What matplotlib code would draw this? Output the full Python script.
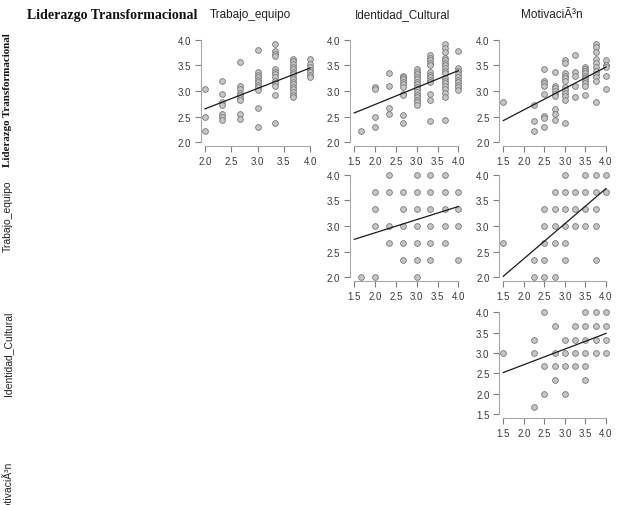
import matplotlib
matplotlib.use("Agg")
import matplotlib.pyplot as plt
import numpy as np

W, H = 617, 506

variables = ["Liderazgo Transformacional", "Trabajo_equipo", "Identidad_Cultural", "MotivaciÃ³n"]

# Liderazgo (y) vs Trabajo_equipo (x), grouped by x value
lid_trab_x = [2.0, 2.33, 2.67, 3.0, 3.33, 3.67, 4.0]
lid_trab_y = [
    [3.03, 2.5, 2.22],
    [3.19, 2.95, 2.78, 2.73, 2.55, 2.49, 2.43],
    [3.57, 3.1, 3.03, 2.97, 2.92, 2.87, 2.82, 2.55, 2.45],
    [3.8, 3.37, 3.32, 3.27, 3.22, 3.17, 3.12, 3.07, 3.02, 2.67, 2.3],
    [3.93, 3.78, 3.73, 3.68, 3.43, 3.38, 3.33, 3.28, 3.2, 3.15, 3.1, 2.93, 2.38],
    [3.63, 3.58, 3.53, 3.48, 3.43, 3.38, 3.33, 3.28, 3.23, 3.18, 3.13, 3.08, 3.03, 2.98, 2.93, 2.88],
    [3.62, 3.53, 3.47, 3.42, 3.37, 3.32, 3.28],
]

# Liderazgo (y) vs Identidad_Cultural (x)
lid_iden_x = [1.67, 2.0, 2.33, 2.67, 3.0, 3.33, 3.67, 4.0]
lid_iden_y = [
    [2.22],
    [3.08, 3.03, 2.5, 2.3],
    [3.35, 3.1, 2.67, 2.55],
    [3.3, 3.27, 3.23, 3.18, 3.13, 3.08, 2.95, 2.92, 2.53, 2.38],
    [3.43, 3.38, 3.33, 3.28, 3.23, 3.18, 3.13, 3.08, 3.03, 2.98, 2.93, 2.88, 2.83, 2.78, 2.73],
    [3.7, 3.65, 3.6, 3.55, 3.5, 3.37, 3.32, 3.27, 3.22, 3.17, 2.95, 2.83, 2.42],
    [3.93, 3.85, 3.77, 3.65, 3.6, 3.55, 3.5, 3.45, 3.4, 3.35, 3.25, 3.2, 3.15, 3.1, 3.03, 2.97, 2.88, 2.43],
    [3.78, 3.45, 3.4, 3.33, 3.27, 3.22, 3.17, 3.12, 3.07, 3.02],
]

# Liderazgo (y) vs Motivacion (x)
lid_moti_x = [1.5, 2.25, 2.5, 2.75, 3.0, 3.25, 3.5, 3.75, 4.0]
lid_moti_y = [
    [2.79],
    [2.73, 2.42, 2.21],
    [3.43, 3.2, 3.15, 3.1, 2.95, 2.51, 2.47, 2.3],
    [3.38, 3.1, 3.05, 3.0, 2.95, 2.9, 2.65, 2.55, 2.43],
    [3.6, 3.55, 3.35, 3.3, 3.25, 3.2, 3.07, 3.02, 2.97, 2.9, 2.82, 2.37],
    [3.71, 3.37, 3.3, 3.1, 2.88],
    [3.47, 3.43, 3.4, 3.35, 3.3, 3.25, 3.2, 3.15, 3.1, 2.93],
    [3.93, 3.87, 3.77, 3.63, 3.55, 3.48, 3.4, 3.33, 3.27, 3.2, 2.78],
    [3.61, 3.51, 3.47, 3.3, 3.03],
]

# Trabajo_equipo (y) vs Identidad_Cultural (x), grouped by y value
trab_iden_y = [4.0, 3.67, 3.33, 3.0, 2.67, 2.33, 2.0]
trab_iden_x = [
    [2.33, 3.0, 3.33, 3.67],
    [2.0, 2.33, 2.67, 3.0, 3.33, 3.67, 4.0],
    [2.0, 2.67, 3.0, 3.33, 3.67, 4.0],
    [2.0, 2.33, 2.67, 3.0, 3.33, 3.67, 4.0],
    [2.33, 2.67, 3.0, 3.33, 3.67],
    [2.67, 3.0, 3.33, 4.0],
    [1.67, 2.0, 3.0],
]

# Trabajo_equipo (y) vs Motivacion (x)
trab_moti_y = [4.0, 3.67, 3.33, 3.0, 2.67, 2.33, 2.0]
trab_moti_x = [
    [3.0, 3.5, 3.75, 4.0],
    [2.75, 3.0, 3.25, 3.5, 3.75, 4.0],
    [2.5, 2.75, 3.0, 3.25, 3.5, 3.75],
    [2.5, 2.75, 3.0, 3.25, 3.5, 3.75],
    [1.5, 2.5, 2.75, 3.0],
    [2.25, 2.5, 3.0, 3.75],
    [2.25, 2.5, 2.75],
]

# Identidad_Cultural (y) vs Motivacion (x)
iden_moti_y = [4.0, 3.67, 3.33, 3.0, 2.67, 2.33, 2.0, 1.67]
iden_moti_x = [
    [2.5, 3.5, 3.75, 4.0],
    [2.75, 3.25, 3.5, 3.75, 4.0],
    [2.25, 3.0, 3.25, 3.5, 3.75, 4.0],
    [1.5, 2.25, 2.75, 3.0, 3.25, 3.5, 3.75, 4.0],
    [2.5, 2.75, 3.0, 3.25, 3.5],
    [2.75, 3.5],
    [2.5, 3.0],
    [2.25],
]

# regression lines (intercept, slope)
fit_intercept = [1.85, 2.072, 1.79, 2.356, 0.994, 1.944]
fit_slope = [0.4, 0.332, 0.42, 0.256, 0.684, 0.384]

ticks_2 = [2.0, 2.5, 3.0, 3.5, 4.0]
ticks_15 = [1.5, 2.0, 2.5, 3.0, 3.5, 4.0]


def flat_by_x(xs, ys):
    px, py = [], []
    for xv, col in zip(xs, ys):
        px += [xv] * len(col)
        py += col
    return px, py


def flat_by_y(ys, xs):
    px, py = [], []
    for yv, row in zip(ys, xs):
        px += row
        py += [yv] * len(row)
    return px, py


panels = [
    (0, 1, flat_by_x(lid_trab_x, lid_trab_y), ticks_2, ticks_2),
    (0, 2, flat_by_x(lid_iden_x, lid_iden_y), ticks_15, ticks_2),
    (0, 3, flat_by_x(lid_moti_x, lid_moti_y), ticks_15, ticks_2),
    (1, 2, flat_by_y(trab_iden_y, trab_iden_x), ticks_15, ticks_2),
    (1, 3, flat_by_y(trab_moti_y, trab_moti_x), ticks_15, ticks_2),
    (2, 3, flat_by_y(iden_moti_y, iden_moti_x), ticks_15, ticks_15),
]

# pixel boxes of the plot regions
col_left = {1: 200.8, 2: 350.1, 3: 499.2}
col_right = {1: 314.2, 2: 462.5, 3: 610.1}
row_top = {0: 36.9, 1: 171.6, 2: 309.2}
row_bottom = {0: 147.1, 1: 282.4, 2: 419.1}

fig = plt.figure(figsize=(W / 100, H / 100), dpi=100)
fig.patch.set_facecolor("white")

for i, (r, c, (px, py), xt, yt) in enumerate(panels):
    l, rgt = col_left[c], col_right[c]
    t, b = row_top[r], row_bottom[r]
    ax = fig.add_axes([l / W, 1 - b / H, (rgt - l) / W, (b - t) / H])
    ax.scatter(px, py, s=17, facecolor="#c6c6c6", edgecolor="#777777", linewidth=0.6, zorder=2)
    xr = np.array([xt[0], xt[-1]])
    ax.plot(xr, fit_intercept[i] + fit_slope[i] * xr, color="#1a1a1a", lw=0.9, zorder=3)
    xpad = 0.04 * (xt[-1] - xt[0])
    ypad = 0.04 * (yt[-1] - yt[0])
    ax.set_xlim(xt[0] - xpad, xt[-1] + xpad)
    ax.set_ylim(yt[0] - ypad, yt[-1] + ypad)
    ax.set_xticks(xt)
    ax.set_yticks(yt)
    ax.set_xticklabels([f"{v:.1f}" for v in xt])
    ax.set_yticklabels([f"{v:.1f}" for v in yt])
    for s in ["top", "right"]:
        ax.spines[s].set_visible(False)
    ax.spines["bottom"].set_bounds(xt[0], xt[-1])
    ax.spines["left"].set_bounds(yt[0], yt[-1])
    for s in ["bottom", "left"]:
        ax.spines[s].set_color("#a8a8a8")
        ax.spines[s].set_linewidth(0.8)
    ax.tick_params(length=4, width=0.8, color="#808080", labelsize=7, labelcolor="#3a3a3a",
                   pad=3)
    for lab in ax.get_xticklabels() + ax.get_yticklabels():
        lab.set_family("Liberation Sans")
    ax.set_facecolor("none")

# column headers
header_x = [112, 250, 403, 552]
fig.text(header_x[0] / W, 1 - 15 / H, variables[0], family="Liberation Serif",
         weight="bold", fontsize=10, ha="center", va="center", color="#111111")
for k in range(1, 4):
    fig.text(header_x[k] / W, 1 - 15 / H, variables[k], family="Liberation Sans",
             fontsize=8.5, ha="center", va="center", color="#222222")

# row labels
fig.text(8 / W, 1 - 100 / H, variables[0], family="Liberation Serif", weight="bold",
         fontsize=7.9, rotation=90, ha="center", va="center", color="#111111")
row_label_y = [216, 354, 489]
for k in range(1, 4):
    fig.text(8 / W, 1 - row_label_y[k - 1] / H, variables[k], family="Liberation Sans",
             fontsize=7.5, rotation=90, ha="center", va="center", color="#222222")

plt.savefig("out.png", dpi=100)
